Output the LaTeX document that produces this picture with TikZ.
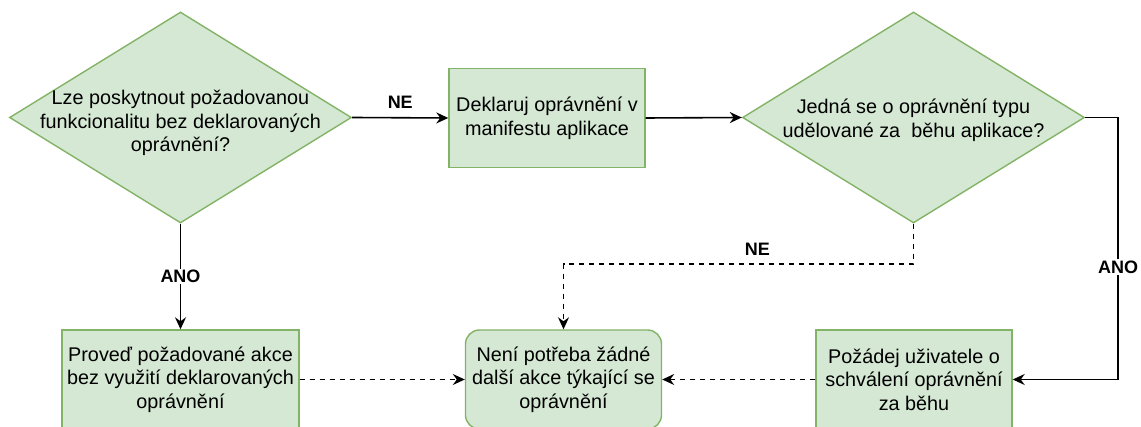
\documentclass[tikz,border=0pt]{standalone}
\usepackage{fontspec}
\setmainfont{Liberation Sans}
\usetikzlibrary{shapes.geometric,arrows.meta}
\definecolor{gfill}{HTML}{D5E8D4}
\definecolor{gdraw}{HTML}{82B366}
\begin{document}
\begin{tikzpicture}[x=1pt,y=-1pt,
  dia/.style={diamond, draw=gdraw, fill=gfill, line width=1.4pt, minimum width=342pt, minimum height=211pt, inner sep=0pt},
  txt/.style={font=\fontsize{19.8}{23.6}\selectfont, align=center, inner sep=0pt},
  box/.style={rectangle, draw=gdraw, fill=gfill, line width=1.4pt, minimum width=196pt, minimum height=99pt, inner sep=0pt, font=\fontsize{19.8}{23.6}\selectfont, align=center},
  lbl/.style={font=\bfseries\fontsize{18}{21}\selectfont, fill=white, inner sep=1.5pt},
  arr/.style={line width=1.6pt, -{Stealth[length=12pt,width=11pt,inset=4pt]}},
  dsh/.style={arr, dash pattern=on 5pt off 5pt}]
\useasboundingbox (0,0) rectangle (1141,427);
\node[dia] (d1) at (180.5,117.5) {};
\node[txt] (t1) at (180.5,123) {Lze poskytnout požadovanou\\funkcionalitu bez deklarovaných\\oprávnění?};
\node[box] (b2) at (547,118) {Deklaruj oprávnění v\\manifestu aplikace};
\node[dia] (d2) at (913.5,117.5) {};
\node[txt] (t2) at (913.5,120) {Jedná se o oprávnění typu\\udělované za\ \ běhu aplikace?};
\node[box, minimum width=237pt] (b1) at (180.5,379.5) {Proveď požadované akce\\bez využití deklarovaných\\oprávnění};
\node[box, rounded corners=14pt] (b3) at (563.5,379.5) {Není potřeba žádné\\další akce týkající se\\oprávnění};
\node[box] (b4) at (914,379.5) {Požádej uživatele o\\schválení oprávnění\\za běhu};
\coordinate (c1) at (1118,117.5);
\coordinate (c2) at (913.5,264);
\draw[arr] (d1.east) -- (b2.west) node[lbl, fill=none, midway, yshift=15pt] {NE};
\draw[arr] (b2.east) -- (d2.west);
\draw[arr] (d1.south) -- (b1.north) node[lbl, midway] {ANO};
\draw[arr] (d2.east) -- (c1) |- (b4.east) node[lbl, pos=0.285] {ANO};
\draw[dsh] (d2.south) -- (c2) -| (b3.north) node[lbl, fill=none, pos=0.223, yshift=15pt] {NE};
\draw[dsh] (b1.east) -- (b3.west);
\draw[dsh] (b4.west) -- (b3.east);
\end{tikzpicture}
\end{document}
